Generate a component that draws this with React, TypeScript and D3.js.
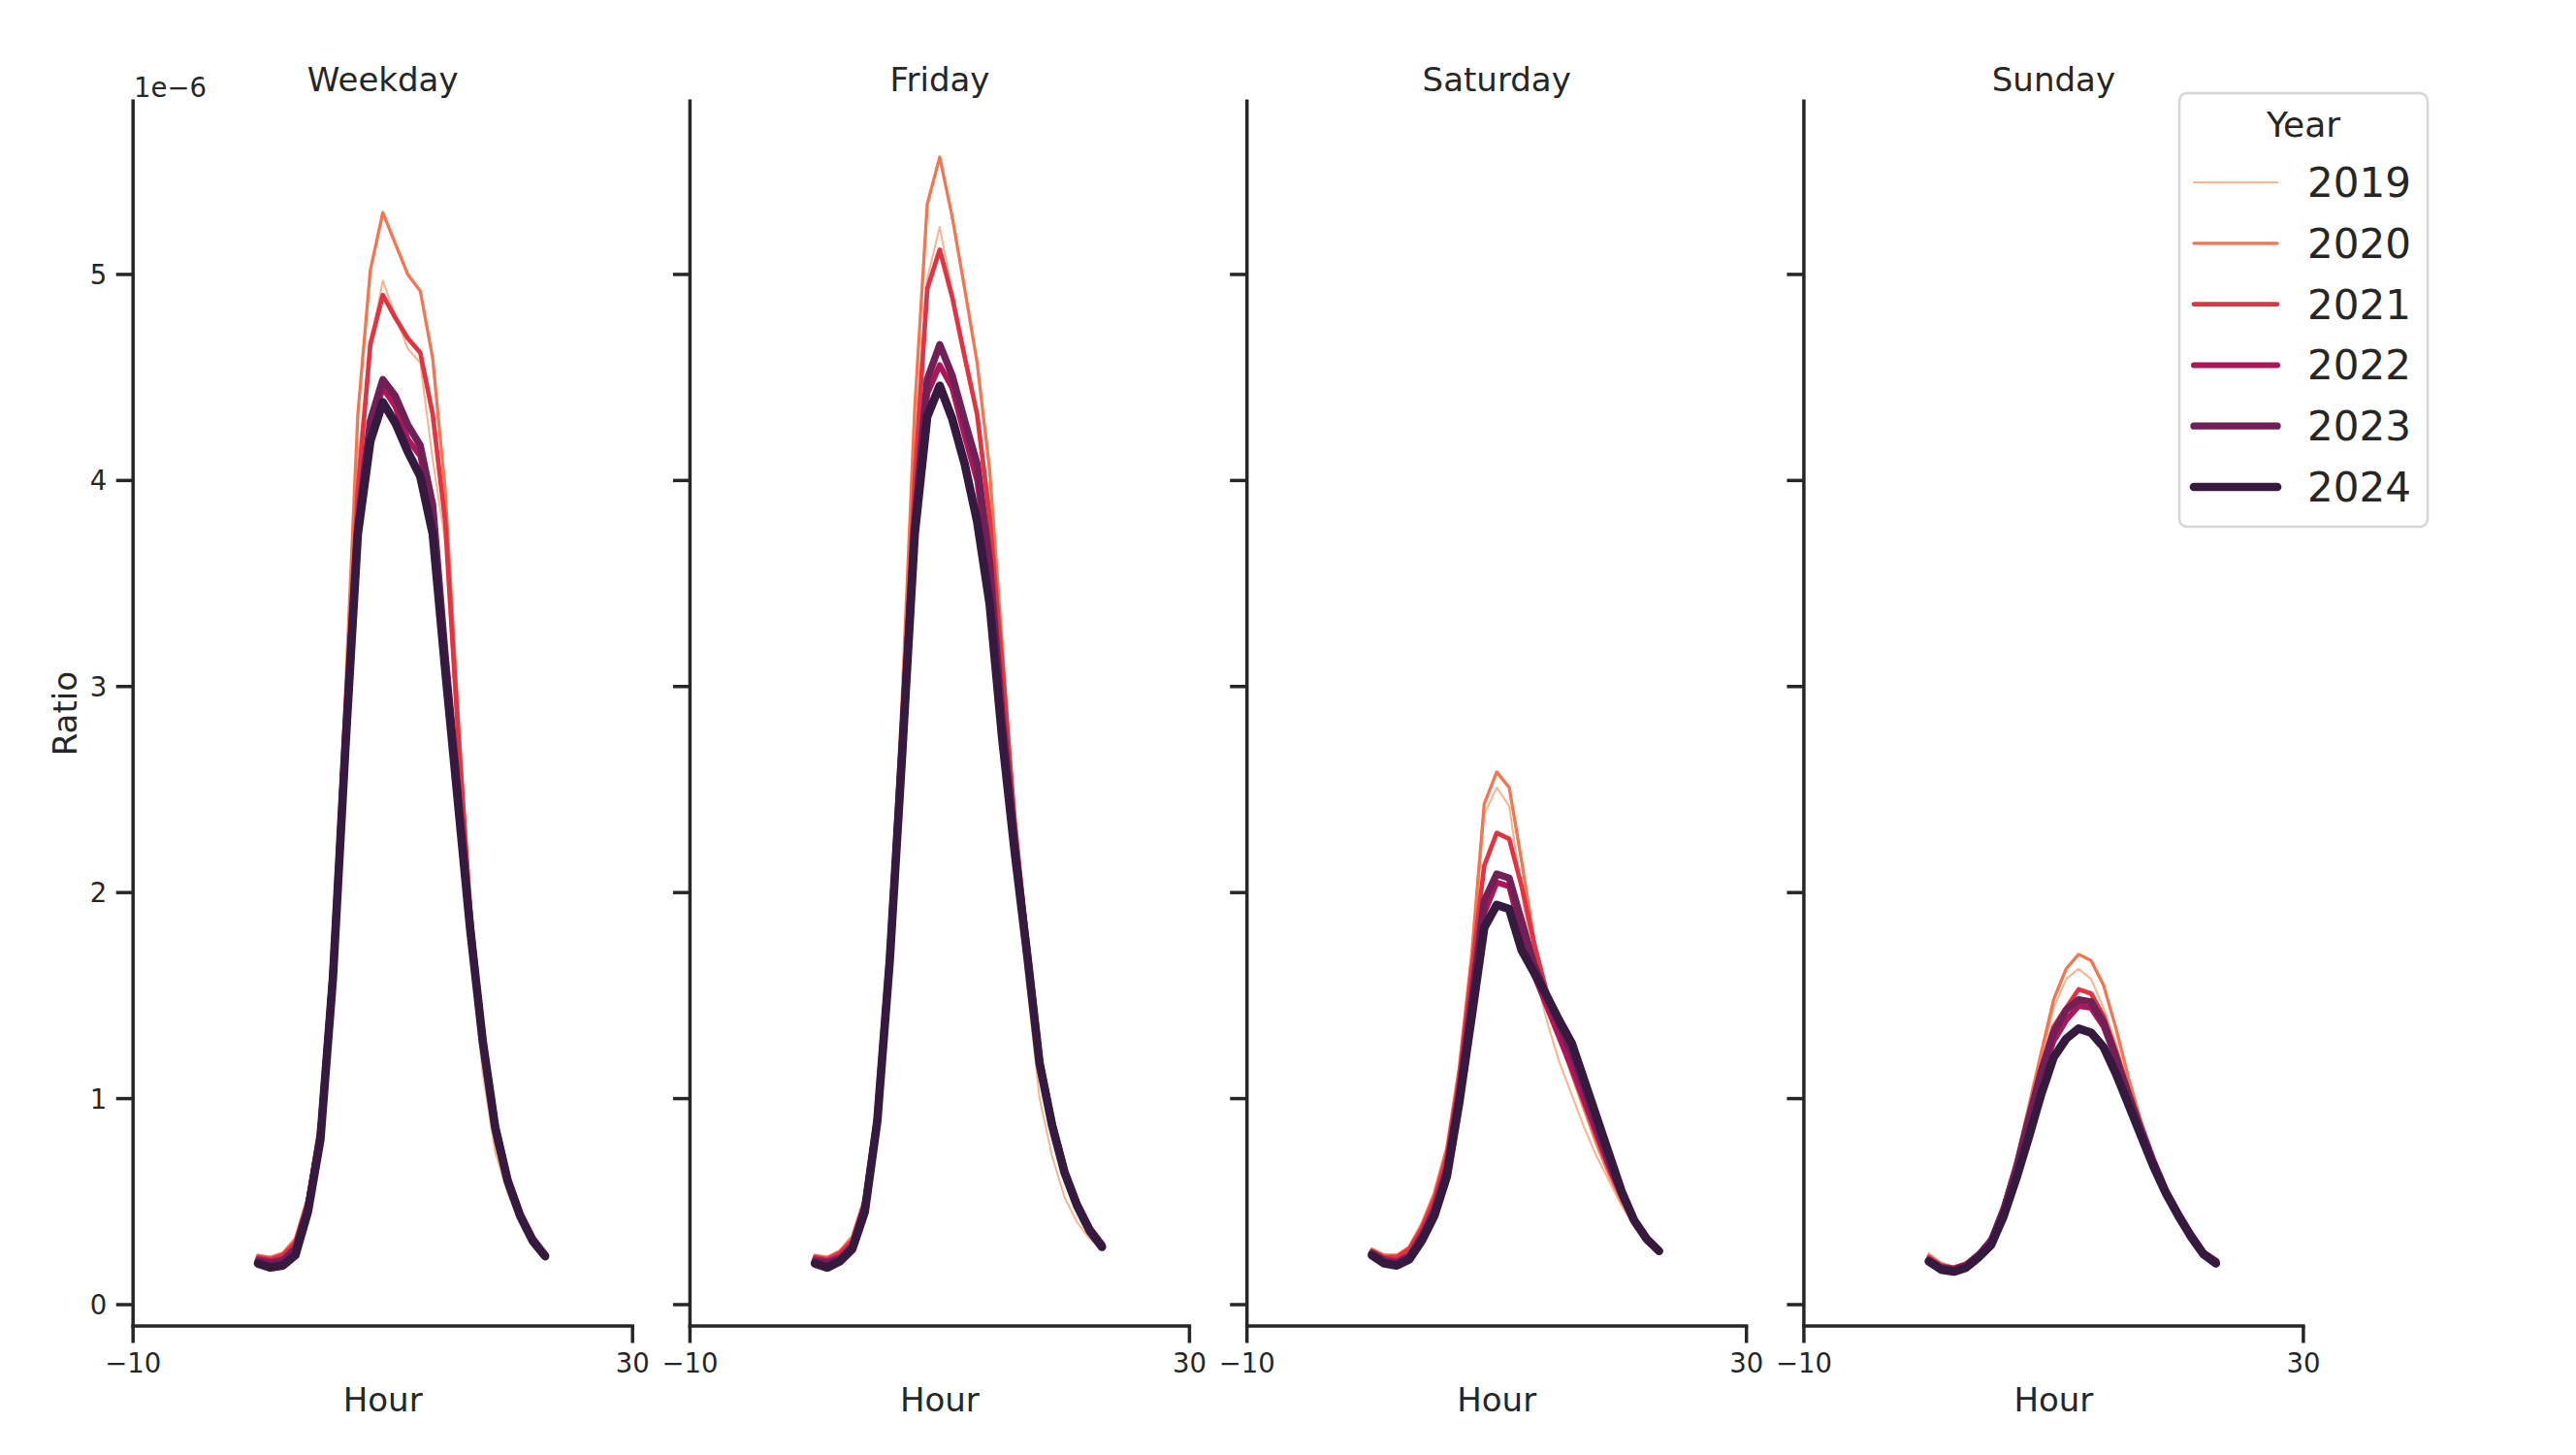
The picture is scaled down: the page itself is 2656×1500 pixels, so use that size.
import React, { useEffect } from 'react';
import * as d3 from 'd3';

// ---------- data ----------
const hours = [0, 1, 2, 3, 4, 5, 6, 7, 8, 9, 10, 11, 12, 13, 14, 15, 16, 17, 18, 19, 20, 21, 22, 23];
const years = ['2019', '2020', '2021', '2022', '2023', '2024'];
const panelTitles = ['Weekday', 'Friday', 'Saturday', 'Sunday'];
const yearColors = ['#f6b48f', '#f37651', '#e13342', '#ad1759', '#701f57', '#35193e'];
const yearWidths = [2.0, 3.3, 4.7, 6.0, 7.3, 8.7];
const xTicks = [-10, 30];
const yTicks = [0, 1, 2, 3, 4, 5];

// values in units of 1e-6, one row per year (2019..2024)
const weekdayValues = [
  [0.24, 0.23, 0.25, 0.31, 0.50, 0.88, 1.70, 2.90, 4.10, 4.65, 4.97, 4.80, 4.64, 4.57, 4.10, 3.70, 2.72, 1.75, 1.12, 0.74, 0.54, 0.40, 0.30, 0.24],
  [0.24, 0.23, 0.25, 0.32, 0.52, 0.90, 1.72, 2.95, 4.32, 5.02, 5.30, 5.15, 5.00, 4.92, 4.59, 3.95, 2.90, 1.90, 1.20, 0.79, 0.57, 0.42, 0.31, 0.24],
  [0.23, 0.22, 0.24, 0.30, 0.50, 0.87, 1.68, 2.85, 3.95, 4.66, 4.90, 4.79, 4.69, 4.62, 4.32, 3.80, 2.80, 1.92, 1.26, 0.84, 0.60, 0.43, 0.31, 0.24],
  [0.22, 0.21, 0.22, 0.28, 0.48, 0.84, 1.62, 2.75, 3.80, 4.25, 4.45, 4.36, 4.20, 4.12, 3.82, 3.15, 2.50, 1.84, 1.28, 0.86, 0.60, 0.43, 0.31, 0.235],
  [0.21, 0.20, 0.21, 0.27, 0.47, 0.82, 1.60, 2.72, 3.78, 4.29, 4.49, 4.41, 4.27, 4.17, 3.88, 3.15, 2.50, 1.84, 1.28, 0.87, 0.61, 0.44, 0.32, 0.24],
  [0.20, 0.18, 0.19, 0.24, 0.45, 0.80, 1.58, 2.70, 3.74, 4.19, 4.38, 4.28, 4.14, 4.02, 3.74, 3.08, 2.45, 1.82, 1.28, 0.86, 0.60, 0.43, 0.31, 0.235],
];
const fridayValues = [
  [0.24, 0.22, 0.25, 0.32, 0.50, 0.95, 1.75, 2.85, 4.20, 4.98, 5.23, 4.92, 4.62, 4.32, 3.90, 3.00, 2.20, 1.55, 1.00, 0.72, 0.52, 0.40, 0.32, 0.27],
  [0.24, 0.23, 0.26, 0.33, 0.52, 0.97, 1.78, 2.95, 4.35, 5.34, 5.57, 5.28, 4.93, 4.57, 4.05, 3.20, 2.35, 1.70, 1.12, 0.83, 0.61, 0.46, 0.35, 0.28],
  [0.23, 0.22, 0.25, 0.31, 0.50, 0.94, 1.74, 2.82, 4.00, 4.93, 5.12, 4.89, 4.60, 4.32, 3.82, 3.10, 2.35, 1.75, 1.17, 0.87, 0.64, 0.48, 0.36, 0.28],
  [0.22, 0.21, 0.23, 0.29, 0.48, 0.91, 1.70, 2.74, 3.80, 4.42, 4.56, 4.45, 4.22, 4.00, 3.55, 2.85, 2.25, 1.72, 1.18, 0.87, 0.64, 0.48, 0.36, 0.28],
  [0.21, 0.20, 0.22, 0.28, 0.47, 0.90, 1.69, 2.72, 3.80, 4.49, 4.66, 4.51, 4.29, 4.08, 3.60, 2.85, 2.25, 1.72, 1.18, 0.88, 0.65, 0.49, 0.37, 0.29],
  [0.20, 0.18, 0.21, 0.27, 0.45, 0.89, 1.67, 2.68, 3.74, 4.31, 4.46, 4.30, 4.08, 3.80, 3.40, 2.75, 2.20, 1.70, 1.17, 0.87, 0.64, 0.48, 0.36, 0.28],
];
const saturdayValues = [
  [0.27, 0.24, 0.24, 0.28, 0.38, 0.52, 0.74, 1.12, 1.62, 2.38, 2.51, 2.42, 2.00, 1.62, 1.38, 1.18, 1.02, 0.86, 0.72, 0.60, 0.48, 0.38, 0.31, 0.26],
  [0.27, 0.24, 0.24, 0.28, 0.39, 0.54, 0.76, 1.15, 1.70, 2.43, 2.585, 2.51, 2.15, 1.77, 1.50, 1.30, 1.12, 0.95, 0.78, 0.63, 0.50, 0.39, 0.31, 0.26],
  [0.26, 0.23, 0.23, 0.27, 0.37, 0.51, 0.72, 1.10, 1.62, 2.13, 2.29, 2.26, 2.03, 1.75, 1.52, 1.33, 1.16, 0.99, 0.82, 0.66, 0.52, 0.40, 0.31, 0.26],
  [0.25, 0.22, 0.21, 0.24, 0.34, 0.47, 0.67, 1.04, 1.50, 1.90, 2.05, 2.03, 1.80, 1.60, 1.45, 1.30, 1.15, 0.99, 0.83, 0.67, 0.53, 0.40, 0.31, 0.26],
  [0.25, 0.21, 0.20, 0.23, 0.33, 0.45, 0.65, 1.02, 1.48, 1.96, 2.09, 2.07, 1.86, 1.65, 1.50, 1.36, 1.22, 1.05, 0.87, 0.70, 0.54, 0.41, 0.32, 0.26],
  [0.24, 0.20, 0.19, 0.22, 0.31, 0.43, 0.62, 0.98, 1.40, 1.83, 1.94, 1.92, 1.72, 1.61, 1.50, 1.38, 1.27, 1.09, 0.91, 0.73, 0.55, 0.41, 0.32, 0.26],
];
const sundayValues = [
  [0.25, 0.20, 0.18, 0.20, 0.25, 0.33, 0.48, 0.69, 0.94, 1.18, 1.44, 1.58, 1.63, 1.58, 1.44, 1.27, 1.06, 0.87, 0.70, 0.56, 0.45, 0.34, 0.25, 0.21],
  [0.24, 0.20, 0.18, 0.20, 0.25, 0.33, 0.49, 0.70, 0.96, 1.22, 1.48, 1.63, 1.70, 1.67, 1.55, 1.34, 1.10, 0.89, 0.72, 0.57, 0.45, 0.35, 0.26, 0.22],
  [0.23, 0.19, 0.18, 0.20, 0.25, 0.32, 0.48, 0.68, 0.92, 1.15, 1.35, 1.44, 1.53, 1.51, 1.40, 1.23, 1.04, 0.86, 0.70, 0.56, 0.45, 0.34, 0.25, 0.21],
  [0.22, 0.18, 0.17, 0.19, 0.24, 0.31, 0.46, 0.66, 0.89, 1.10, 1.28, 1.38, 1.45, 1.44, 1.35, 1.19, 1.01, 0.84, 0.69, 0.55, 0.44, 0.34, 0.25, 0.21],
  [0.21, 0.18, 0.17, 0.19, 0.24, 0.31, 0.46, 0.66, 0.90, 1.13, 1.32, 1.43, 1.48, 1.47, 1.37, 1.20, 1.02, 0.85, 0.69, 0.55, 0.44, 0.34, 0.25, 0.21],
  [0.21, 0.17, 0.16, 0.18, 0.23, 0.29, 0.43, 0.61, 0.81, 1.02, 1.20, 1.29, 1.34, 1.32, 1.25, 1.12, 0.97, 0.82, 0.67, 0.54, 0.43, 0.33, 0.245, 0.20],
];
const panelValues = [weekdayValues, fridayValues, saturdayValues, sundayValues];

// ---------- layout ----------
const W = 2656;
const H = 1500;
const panelLeft = [137.2, 711.4, 1285.7, 1859.9];
const panelWidth = 515;
const yTop = 104.3;
const yBottom = 1367;
const ink = '#262626';
const font = 'DejaVu Sans, sans-serif';

const yScale = d3.scaleLinear().domain([-0.1036, 5.841]).range([yBottom, yTop]);

export default function App() {
  useEffect(() => {
    document.body.style.margin = '0';
  }, []);

  return (
    <svg
      width={W}
      height={H}
      style={{ position: 'absolute', left: 0, top: 0, background: '#ffffff' }}
      fontFamily={font}
    >
      <rect x={0} y={0} width={W} height={H} fill="#ffffff" />
      {panelTitles.map((title, pi) => {
        const x0 = panelLeft[pi];
        const xScale = d3.scaleLinear().domain([-10, 30]).range([x0, x0 + panelWidth]);
        const line = d3
          .line<number>()
          .x((_, i) => xScale(hours[i]))
          .y((d) => yScale(d));
        const cx = x0 + panelWidth / 2;
        return (
          <g key={title}>
            {panelValues[pi].map((vals, yi) => (
              <path
                key={years[yi]}
                d={line(vals) || ''}
                fill="none"
                stroke={yearColors[yi]}
                strokeWidth={yearWidths[yi]}
                strokeLinecap="round"
                strokeLinejoin="round"
              />
            ))}
            <line x1={x0} x2={x0} y1={yTop} y2={yBottom} stroke={ink} strokeWidth={3.5} strokeLinecap="square" />
            <line x1={x0} x2={x0 + panelWidth} y1={yBottom} y2={yBottom} stroke={ink} strokeWidth={3.5} strokeLinecap="square" />
            {yTicks.map((t) => (
              <g key={'y' + t}>
                <line x1={x0 - 17.5} x2={x0} y1={yScale(t)} y2={yScale(t)} stroke={ink} strokeWidth={3.5} />
                {pi === 0 && (
                  <text x={x0 - 27} y={yScale(t) + 10} textAnchor="end" fontSize={27.5} fill={ink}>
                    {d3.format('d')(t)}
                  </text>
                )}
              </g>
            ))}
            {xTicks.map((t) => (
              <g key={'x' + t}>
                <line x1={xScale(t)} x2={xScale(t)} y1={yBottom} y2={yBottom + 17.5} stroke={ink} strokeWidth={3.5} />
                <text x={xScale(t)} y={1415} textAnchor="middle" fontSize={27.5} fill={ink}>
                  {d3.format('d')(t)}
                </text>
              </g>
            ))}
            <text x={cx} y={1455} textAnchor="middle" fontSize={34} fill={ink}>
              Hour
            </text>
            <text x={cx} y={93.5} textAnchor="middle" fontSize={34} fill={ink}>
              {title}
            </text>
            {pi === 0 && (
              <>
                <text x={138} y={100} textAnchor="start" fontSize={27.5} fill={ink}>
                  1e−6
                </text>
                <text
                  x={0}
                  y={0}
                  transform={`translate(79, ${(yTop + yBottom) / 2}) rotate(-90)`}
                  textAnchor="middle"
                  fontSize={34}
                  fill={ink}
                >
                  Ratio
                </text>
              </>
            )}
          </g>
        );
      })}
      <g>
        <rect x={2247} y={96} width={256} height={447} rx={8} ry={8} fill="#ffffff" stroke="#d6d6d6" strokeWidth={2.5} />
        <text x={2375} y={141} textAnchor="middle" fontSize={36} fill={ink}>
          Year
        </text>
        {years.map((yr, i) => {
          const ly = 188 + i * 62.8;
          return (
            <g key={yr}>
              <line x1={2262} x2={2348} y1={ly} y2={ly} stroke={yearColors[i]} strokeWidth={yearWidths[i]} strokeLinecap="round" />
              <text x={2379} y={ly + 15} textAnchor="start" fontSize={42} fill={ink}>
                {yr}
              </text>
            </g>
          );
        })}
      </g>
    </svg>
  );
}
